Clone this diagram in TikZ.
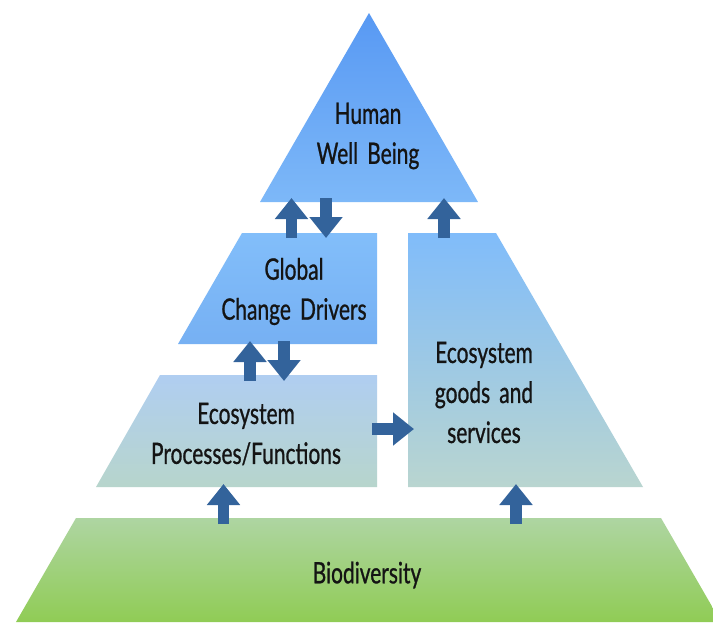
\documentclass[tikz,border=0pt]{standalone}
\usepackage{fontspec}
\setmainfont{Lato}[FakeStretch=0.71,FakeBold=0.8,WordSpace=1.7]
\usetikzlibrary{arrows.meta}

\definecolor{flowblue}{HTML}{33639B}
\definecolor{textdark}{HTML}{141414}

\begin{document}
\begin{tikzpicture}[x=1pt,y=-1pt,
  tier/.style={draw=none},
  tierlabel/.style={align=center, inner sep=0pt, text=textdark,
    font=\fontsize{29.5}{40}\selectfont},
  flow/.style={draw=flowblue, line width=11.5pt, line cap=butt,
    -{Triangle[width=32pt,length=21pt]}},
]
\useasboundingbox (0,0) rectangle (713,622);
\fill[white] (0,0) rectangle (713,622);

% ---- pyramid tiers ----
\shade[tier, top color={rgb,255:red,88;green,153;blue,243},
       bottom color={rgb,255:red,125;green,184;blue,248}]
  (369,13) -- (478,202) -- (260,202) -- cycle;

\shade[tier, top color={rgb,255:red,130;green,190;blue,250},
       bottom color={rgb,255:red,118;green,176;blue,243}]
  (242,233) -- (377,233) -- (377,344) -- (178,344) -- cycle;

\shade[tier, top color={rgb,255:red,176;green,206;blue,241},
       bottom color={rgb,255:red,183;green,213;blue,204}]
  (160,375) -- (377,375) -- (377,487) -- (96,487) -- cycle;

\shade[tier, top color={rgb,255:red,128;green,188;blue,250},
       middle color={rgb,255:red,168;green,203;blue,240},
       bottom color={rgb,255:red,185;green,213;blue,208}]
  (408,233) -- (496,233) -- (643,487) -- (408,487) -- cycle;

\shade[tier, top color={rgb,255:red,174;green,213;blue,162},
       bottom color={rgb,255:red,144;green,204;blue,85}]
  (76,518) -- (661,518) -- (721,622) -- (16,622) -- cycle;

% ---- tier labels ----
\node[tierlabel] (hwb) at (368,136) {Human\\Well Being};
\node[tierlabel] (gcd) at (294,291.5) {Global\\Change Drivers};
\node[tierlabel] (epf) at (246,434) {Ecosystem\\Processes/Functions};
\node[tierlabel] (egs) at (484,392.5) {Ecosystem\\goods and\\services};
\node[tierlabel] (bio) at (367,575) {Biodiversity};

% ---- connector end points on the tier edges ----
\coordinate (gcdUpS) at (291.5,238);  \coordinate (gcdUpT) at (291.5,198);
\coordinate (hwbDnS) at (326,198);    \coordinate (hwbDnT) at (326,238);
\coordinate (egsUpS) at (444,238);    \coordinate (egsUpT) at (444,198);
\coordinate (epfUpS) at (250,381);    \coordinate (epfUpT) at (250,341);
\coordinate (gcdDnS) at (284,341);    \coordinate (gcdDnT) at (284,381);
\coordinate (epfRtS) at (372,429);    \coordinate (epfRtT) at (414,429);
\coordinate (bioUpAS) at (223.5,524); \coordinate (bioUpAT) at (223.5,484);
\coordinate (bioUpBS) at (516,524);   \coordinate (bioUpBT) at (516,484);

% ---- flows ----
\draw[flow] (gcdUpS) -- (gcdUpT);
\draw[flow] (hwbDnS) -- (hwbDnT);
\draw[flow] (egsUpS) -- (egsUpT);
\draw[flow] (epfUpS) -- (epfUpT);
\draw[flow] (gcdDnS) -- (gcdDnT);
\draw[flow] (epfRtS) -- (epfRtT);
\draw[flow] (bioUpAS) -- (bioUpAT);
\draw[flow] (bioUpBS) -- (bioUpBT);
\end{tikzpicture}
\end{document}
